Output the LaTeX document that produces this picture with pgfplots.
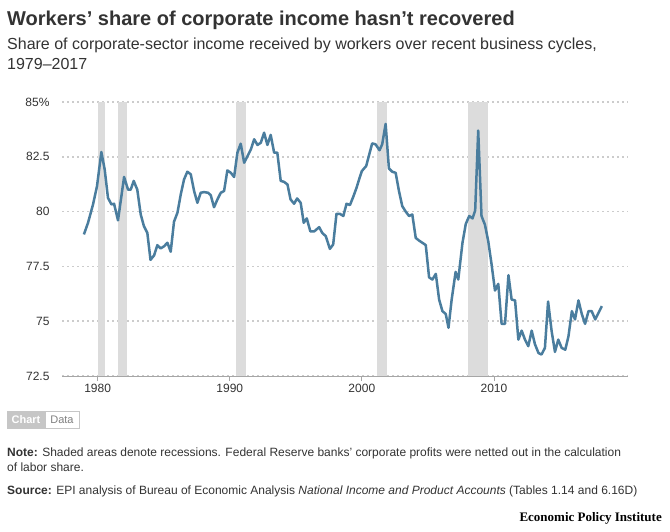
\documentclass[border=0pt]{standalone}
\usepackage{pgfplots}
\pgfplotsset{compat=1.18}
\usepackage{fontspec}
\setmainfont{Liberation Sans}
\newfontfamily\logofont{Liberation Serif}
\definecolor{line}{HTML}{4A7D9E}
\definecolor{rec}{HTML}{DCDCDC}
\definecolor{txt}{HTML}{333333}
\begin{document}
\begin{tikzpicture}[x=1pt,y=1pt]
\path[fill=white] (0,0) rectangle (670,-531);
\node[anchor=base west,font=\bfseries\fontsize{20}{22}\selectfont,text=txt,inner sep=0] at (7,-25) {Workers’ share of corporate income hasn’t recovered};
\node[anchor=base west,font=\fontsize{16}{18}\selectfont,text=txt,inner sep=0] at (7,-49) {Share of corporate-sector income received by workers over recent business cycles,};
\node[anchor=base west,font=\fontsize{16}{18}\selectfont,text=txt,inner sep=0] at (7,-69) {1979--2017};
\begin{axis}[at={(62pt,-376pt)},anchor=south west,scale only axis,width=566pt,height=274pt,
 xmin=1977.3,xmax=2020.15,ymin=72.5,ymax=85,
 axis line style={draw=none},
 xtick={1980,1990,2000,2010},xticklabels={1980,1990,2000,2010},
 ytick={72.5,75,77.5,80,82.5,85},yticklabels={72.5,75,77.5,80,82.5,85\%},
 ymajorgrids,grid style={dash pattern=on 1.5pt off 3.5pt,gray!40,line width=1.5pt},
 ytick style={draw=none},
 xtick style={draw=gray!70,line width=0.8pt},xtick pos=bottom,tick align=outside,major tick length=5pt,
 ticklabel style={font=\fontsize{12}{14}\selectfont,text=txt},
 /pgf/number format/assume math mode=true,
 yticklabel style={anchor=east,xshift=-4pt},
 clip=false]
\addplot[fill=rec,draw=none] coordinates {(1980.0,72.5)(1980.0,85)(1980.53,85)(1980.53,72.5)} -- cycle;
\addplot[fill=rec,draw=none] coordinates {(1981.52,72.5)(1981.52,85)(1982.22,85)(1982.22,72.5)} -- cycle;
\addplot[fill=rec,draw=none] coordinates {(1990.5,72.5)(1990.5,85)(1991.2,85)(1991.2,72.5)} -- cycle;
\addplot[fill=rec,draw=none] coordinates {(2001.16,72.5)(2001.16,85)(2001.92,85)(2001.92,72.5)} -- cycle;
\addplot[fill=rec,draw=none] coordinates {(2008.05,72.5)(2008.05,85)(2009.57,85)(2009.57,72.5)} -- cycle;
\draw[gray!70,line width=0.8pt] (axis cs:1977.3,72.5) -- (axis cs:2020.15,72.5);
\addplot[line,line width=2.5pt,line join=round] coordinates {
(1978.96,78.96)(1979.27,79.49)(1979.65,80.33)(1979.95,81.16)(1980.28,82.72)(1980.53,81.93)
(1980.78,80.63)(1981.04,80.33)(1981.24,80.36)(1981.54,79.6)(1982.0,81.58)(1982.3,81.0)
(1982.5,81.0)(1982.73,81.4)(1983.0,81.0)(1983.26,79.87)(1983.5,79.34)(1983.76,79.03)
(1984.0,77.8)(1984.27,78.0)(1984.52,78.47)(1984.77,78.32)(1985.03,78.42)(1985.28,78.58)
(1985.53,78.17)(1985.78,79.54)(1986.04,79.95)(1986.29,80.78)(1986.54,81.47)(1986.79,81.82)
(1987.05,81.7)(1987.3,80.94)(1987.55,80.4)(1987.8,80.86)(1988.06,80.89)(1988.36,80.86)
(1988.56,80.75)(1988.81,80.2)(1989.07,80.56)(1989.32,80.86)(1989.57,80.94)(1989.82,81.88)
(1990.08,81.77)(1990.33,81.58)(1990.58,82.69)(1990.83,83.1)(1991.09,82.23)(1991.34,82.53)
(1991.6,82.84)(1991.85,83.3)(1992.1,83.04)(1992.35,83.14)(1992.6,83.6)(1992.85,83.04)
(1993.1,83.5)(1993.36,82.69)(1993.6,82.69)(1993.86,81.4)(1994.1,81.36)(1994.37,81.24)
(1994.6,80.56)(1994.87,80.36)(1995.1,80.6)(1995.37,80.4)(1995.6,79.49)(1995.83,79.69)
(1996.1,79.1)(1996.4,79.1)(1996.77,79.29)(1997.0,79.03)(1997.27,78.88)(1997.58,78.3)
(1997.83,78.5)(1998.08,79.9)(1998.33,79.9)(1998.6,79.8)(1998.84,80.36)(1999.1,80.3)
(1999.34,80.66)(1999.6,81.09)(1999.85,81.58)(2000.0,81.85)(2000.33,82.08)(2000.78,83.11)
(2001.04,83.07)(2001.34,82.8)(2001.54,83.07)(2001.8,84.0)(2002.05,81.97)(2002.3,81.82)
(2002.56,81.77)(2002.81,80.94)(2003.06,80.25)(2003.3,80.02)(2003.57,79.8)(2003.82,79.87)
(2004.08,78.8)(2004.33,78.68)(2004.58,78.58)(2004.84,78.47)(2005.09,77.0)(2005.34,76.9)
(2005.6,77.16)(2005.85,75.99)(2006.1,75.46)(2006.35,75.33)(2006.56,74.7)(2006.8,75.99)
(2007.1,77.25)(2007.3,76.9)(2007.62,78.58)(2007.87,79.44)(2008.13,79.8)(2008.38,79.69)
(2008.58,80.05)(2008.81,83.7)(2009.06,79.8)(2009.32,79.4)(2009.57,78.65)(2009.82,77.6)
(2010.08,76.4)(2010.33,76.7)(2010.58,74.88)(2010.84,74.88)(2011.1,77.1)(2011.34,75.99)
(2011.6,75.95)(2011.85,74.16)(2012.1,74.57)(2012.35,74.16)(2012.6,73.86)(2012.86,74.57)
(2013.1,73.96)(2013.37,73.55)(2013.6,73.48)(2013.86,73.78)(2014.1,75.9)(2014.37,74.54)
(2014.62,73.6)(2014.87,74.16)(2015.13,73.78)(2015.4,73.7)(2015.64,74.3)(2015.9,75.46)
(2016.14,75.08)(2016.4,75.95)(2016.65,75.33)(2016.9,74.88)(2017.16,75.46)(2017.4,75.46)
(2017.67,75.08)(2018.17,75.69)};
\end{axis}
% tabs
\draw[fill=gray!45,draw=gray!45] (7,-411) rectangle (45,-428);
\node[font=\bfseries\fontsize{11}{12}\selectfont,text=white] at (26,-419.5) {Chart};
\draw[draw=gray!45] (45,-411) rectangle (79,-428);
\node[font=\fontsize{11}{12}\selectfont,text=gray] at (62,-419.5) {Data};
\node[anchor=base west,font=\fontsize{12}{14}\selectfont,text=txt,inner sep=0] at (7,-456) {\textbf{Note:} Shaded areas denote recessions. Federal Reserve banks' corporate profits were netted out in the calculation};
\node[anchor=base west,font=\fontsize{12}{14}\selectfont,text=txt,inner sep=0] at (7,-471) {of labor share.};
\node[anchor=base west,font=\fontsize{12}{14}\selectfont,text=txt,inner sep=0] at (7,-494) {\textbf{Source:} EPI analysis of Bureau of Economic Analysis \textit{National Income and Product Accounts} (Tables 1.14 and 6.16D)};
\node[anchor=base east,font=\logofont\bfseries\fontsize{13}{15}\selectfont,text=black,inner sep=0] at (662,-521) {Economic Policy Institute};
\end{tikzpicture}
\end{document}
